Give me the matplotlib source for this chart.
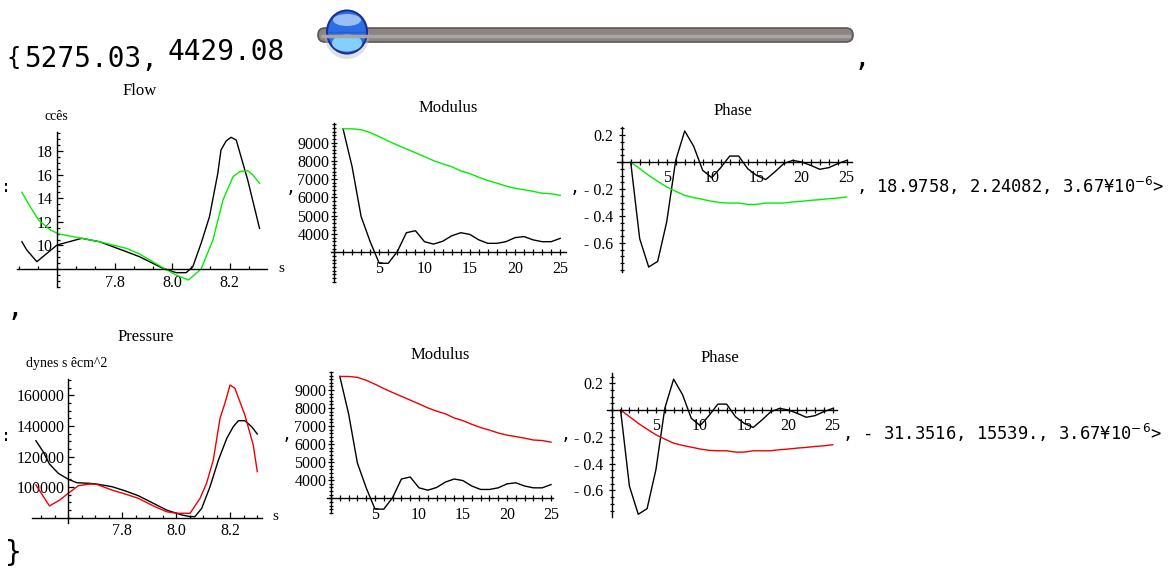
import matplotlib
matplotlib.use("Agg")
import matplotlib.pyplot as plt
from matplotlib.patches import Ellipse, FancyBboxPatch
from matplotlib.ticker import MultipleLocator

W, H = 1170, 573

# ---- data ----
flow_black_t = [7.478, 7.495, 7.530, 7.600, 7.686, 7.748, 7.841, 7.887, 7.968, 8.014, 8.049,
                8.072, 8.101, 8.130, 8.159, 8.170, 8.188, 8.205, 8.223, 8.263, 8.304]
flow_black = [10.31, 9.61, 8.62, 10.03, 10.60, 10.31, 9.47, 9.04, 8.06, 7.69, 7.69,
              8.19, 10.18, 12.43, 16.11, 18.08, 18.85, 19.16, 18.93, 15.54, 11.45]
flow_green_t = [7.478, 7.507, 7.536, 7.577, 7.606, 7.686, 7.748, 7.841, 7.887, 7.968, 8.014,
                8.057, 8.101, 8.142, 8.177, 8.212, 8.235, 8.263, 8.281, 8.304]
flow_green = [14.50, 13.28, 12.15, 11.31, 10.97, 10.60, 10.31, 9.75, 9.27, 8.11, 7.49,
              7.07, 8.00, 10.46, 13.85, 15.82, 16.25, 16.33, 15.97, 15.26]

pressure_black_t = [7.480, 7.507, 7.530, 7.563, 7.600, 7.631, 7.674, 7.705, 7.761, 7.810, 7.859,
                    7.915, 7.964, 8.020, 8.051, 8.069, 8.094, 8.125, 8.156, 8.187, 8.211, 8.230,
                    8.254, 8.279, 8.300]
pressure_black = [130300, 123100, 115100, 109000, 105100, 102900, 102500, 102000, 100300, 97600,
                  94400, 89400, 85000, 81800, 80700, 80700, 86100, 100300, 117700, 131900, 139500,
                  143400, 143400, 139500, 134700]
pressure_red_t = [7.480, 7.530, 7.569, 7.600, 7.637, 7.680, 7.705, 7.761, 7.810, 7.859, 7.915,
                  7.964, 8.001, 8.051, 8.088, 8.112, 8.137, 8.162, 8.180, 8.199, 8.217, 8.254,
                  8.285, 8.300]
pressure_red = [101400, 87700, 91600, 96000, 100900, 102000, 101800, 98100, 95500, 92700, 87700,
                83900, 82900, 82900, 92700, 102500, 117700, 145000, 154800, 166700, 164600, 147100,
                127500, 110100]

harmonics = [1, 2, 3, 4, 5, 6, 7, 8, 9, 10, 11, 12, 13, 14, 15, 16, 17, 18, 19, 20, 21, 22, 23, 24, 25]
modulus_black = [9750, 7680, 4950, 3580, 2400, 2400, 3040, 4070, 4180, 3580, 3450, 3600, 3900,
                 4070, 3980, 3680, 3490, 3490, 3580, 3800, 3860, 3680, 3580, 3580, 3760]
modulus_model = [9750, 9750, 9700, 9540, 9320, 9080, 8860, 8650, 8440, 8230, 8010, 7830, 7680,
                 7450, 7300, 7100, 6920, 6780, 6620, 6500, 6420, 6330, 6230, 6200, 6110]
phase_black = [0.0, -0.568, -0.778, -0.736, -0.444, 0.012, 0.230, 0.116, -0.062, -0.116, -0.042,
               0.044, 0.044, -0.050, -0.100, -0.130, -0.074, -0.012, 0.012, 0.0, -0.025, -0.054,
               -0.042, -0.012, 0.012]
phase_model = [0.0, -0.049, -0.099, -0.143, -0.185, -0.217, -0.247, -0.264, -0.277, -0.291, -0.301,
               -0.304, -0.304, -0.314, -0.314, -0.304, -0.304, -0.304, -0.296, -0.291, -0.284,
               -0.279, -0.272, -0.267, -0.259]

flow_xticks = [7.8, 8.0, 8.2]
flow_xlabels = ["7.8", "8.0", "8.2"]
flow_yticks = [10, 12, 14, 16, 18]
pressure_yticks = [100000, 120000, 140000, 160000]
harm_ticks = [5, 10, 15, 20, 25]
modulus_yticks = [4000, 5000, 6000, 7000, 8000, 9000]
phase_yticks = [-0.6, -0.4, -0.2, 0.2]
phase_ylabels = ["- 0.6", "- 0.4", "- 0.2", "0.2"]

top_values = ", 18.9758, 2.24082, 3.67\u00a510$^{-6}$>"
bottom_values = ", - 31.3516, 15539., 3.67\u00a510$^{-\\,6}$>"

SERIF = "Liberation Serif"
MONO = "DejaVu Sans Mono"
GREEN = "#00ee00"
RED = "#ee0000"

fig = plt.figure(figsize=(W / 100, H / 100), dpi=100)
canvas = fig.add_axes([0, 0, 1, 1])
canvas.set_xlim(0, W)
canvas.set_ylim(H, 0)
canvas.axis("off")


def txt(x, y, s, size=12, family=SERIF, ha="center", va="center"):
    canvas.text(x, y, s, fontsize=size, family=family, ha=ha, va=va, color="black")


def panel(box, xlim, ylim, origin, xmajor, xlabels, ymajor, ylabels, xminor, yminor,
          direction="in", ypad=3):
    l, t, r, b = box
    ax = fig.add_axes([l / W, 1 - b / H, (r - l) / W, (b - t) / H])
    ax.set_xlim(*xlim)
    ax.set_ylim(*ylim)
    ax.patch.set_alpha(0)
    for s in ("top", "right"):
        ax.spines[s].set_visible(False)
    ax.spines["left"].set_position(("data", origin[0]))
    ax.spines["bottom"].set_position(("data", origin[1]))
    for s in ("left", "bottom"):
        ax.spines[s].set_linewidth(1.0)
    ax.set_xticks(xmajor)
    ax.set_xticklabels(xlabels)
    ax.set_yticks(ymajor)
    ax.set_yticklabels(ylabels)
    ax.xaxis.set_minor_locator(MultipleLocator(xminor))
    ax.yaxis.set_minor_locator(MultipleLocator(yminor))
    ax.tick_params(which="both", direction=direction, width=0.9, labelsize=11.5)
    ax.tick_params(which="major", length=4.5)
    ax.tick_params(which="minor", length=2.5)
    ax.tick_params(axis="x", pad=4)
    ax.tick_params(axis="y", pad=ypad)
    for lab in ax.get_xticklabels() + ax.get_yticklabels():
        lab.set_family(SERIF)
    return ax


# ---- top row: flow ----
ax = panel((17, 132, 267, 287), (7.461, 8.330), (6.475, 19.61), (7.6, 8),
           flow_xticks, flow_xlabels, flow_yticks, [str(v) for v in flow_yticks], 0.2 / 3, 0.5)
ax.plot(flow_black_t, flow_black, color="black", lw=1.0)
ax.plot(flow_green_t, flow_green, color=GREEN, lw=1.0)

ax = panel((331, 123, 566, 282), (-0.33, 25.64), (1377, 10066), (0, 3000),
           harm_ticks, [str(v) for v in harm_ticks], modulus_yticks,
           [str(v) for v in modulus_yticks], 1, 200, direction="inout", ypad=1)
ax.tick_params(axis="x", which="both", length=4)
ax.plot(harmonics, modulus_black, color="black", lw=1.0)
ax.plot(harmonics, modulus_model, color=GREEN, lw=1.0)

ax = panel((617, 126.7, 851.7, 271.7), (-0.52, 25.55), (-0.8126, 0.2615), (0, 0),
           harm_ticks, [str(v) for v in harm_ticks], phase_yticks, phase_ylabels,
           1, 0.05, direction="inout", ypad=4)
ax.tick_params(axis="x", which="both", length=4)
ax.plot(harmonics, phase_black, color="black", lw=1.0)
ax.plot(harmonics, phase_model, color=GREEN, lw=1.0)

# ---- bottom row: pressure ----
ax = panel((31.7, 379.3, 261.7, 523), (7.4644, 8.3163), (76536, 170458), (7.6, 80000),
           flow_xticks, flow_xlabels, pressure_yticks, [str(v) for v in pressure_yticks],
           0.05, 5000)
ax.plot(pressure_black_t, pressure_black, color="black", lw=1.0)
ax.plot(pressure_red_t, pressure_red, color=RED, lw=1.0)

ax = panel((326.7, 371.7, 553.3, 513), (-0.49, 25.26), (2186, 10014), (0, 3000),
           harm_ticks, [str(v) for v in harm_ticks], modulus_yticks,
           [str(v) for v in modulus_yticks], 1, 200, direction="inout", ypad=1)
ax.tick_params(axis="x", which="both", length=4)
ax.plot(harmonics, modulus_black, color="black", lw=1.0)
ax.plot(harmonics, modulus_model, color=RED, lw=1.0)

ax = panel((606.7, 373.3, 836.7, 516.7), (-0.57, 25.45), (-0.796, 0.274), (0, 0),
           harm_ticks, [str(v) for v in harm_ticks], phase_yticks, phase_ylabels,
           1, 0.05, direction="inout", ypad=4)
ax.tick_params(axis="x", which="both", length=4)
ax.plot(harmonics, phase_black, color="black", lw=1.0)
ax.plot(harmonics, phase_model, color=RED, lw=1.0)

# ---- titles and units ----
txt(140, 91, "Flow")
txt(56, 116, "cc\u00eas", size=10)
txt(281, 268, "s", size=11)
txt(448, 108, "Modulus")
txt(733, 111, "Phase")
txt(146, 337, "Pressure")
txt(26, 363, "dynes s \u00eacm^2", size=10, ha="left")
txt(275, 516, "s", size=11)
txt(440, 355, "Modulus")
txt(720, 358, "Phase")

# ---- surrounding output text ----
txt(6, 58, "{", size=17, family=MONO, ha="left")
txt(24, 59, "5275.03,", size=20, family=MONO, ha="left")
txt(168, 52, "4429.08", size=20, family=MONO, ha="left")
txt(862, 58, ",", size=20, family=MONO)
txt(15, 308, ",", size=20, family=MONO)
txt(13, 553, "}", size=20, family=MONO)

txt(6, 187, ":", size=12, family=MONO)
txt(291, 188, ",", size=12, family=MONO)
txt(575, 188, ",", size=12, family=MONO)
txt(856, 186, top_values, size=12.3, family=MONO, ha="left")
txt(6, 436, ":", size=12, family=MONO)
txt(287, 435, ",", size=12, family=MONO)
txt(566, 435, ",", size=12, family=MONO)
txt(842, 433, bottom_values, size=12.3, family=MONO, ha="left")

# ---- slider ----
canvas.add_patch(FancyBboxPatch((318, 28), 535, 14, boxstyle="round,pad=0,rounding_size=7",
                                fc="#8c8584", ec="#5e5655", lw=1.2))
canvas.plot([322, 849], [36, 36], color="#aaa4a3", lw=2.5, solid_capstyle="round")
canvas.add_patch(Ellipse((347, 37), 44, 44, fc="#bbbbbb", ec="none", alpha=0.45))
canvas.add_patch(Ellipse((347, 32), 40, 43, fc="#2c6fe4", ec="#1b2f99", lw=1.5))
canvas.add_patch(Ellipse((347, 43), 30, 17, fc="#8edcff", ec="none", alpha=0.9))
canvas.add_patch(Ellipse((347, 20), 28, 12, fc="#a8c7f5", ec="none", alpha=0.9))
canvas.plot([329, 365], [32, 32], color="#1f5fd0", lw=1)

fig.savefig("out.png", dpi=100)
